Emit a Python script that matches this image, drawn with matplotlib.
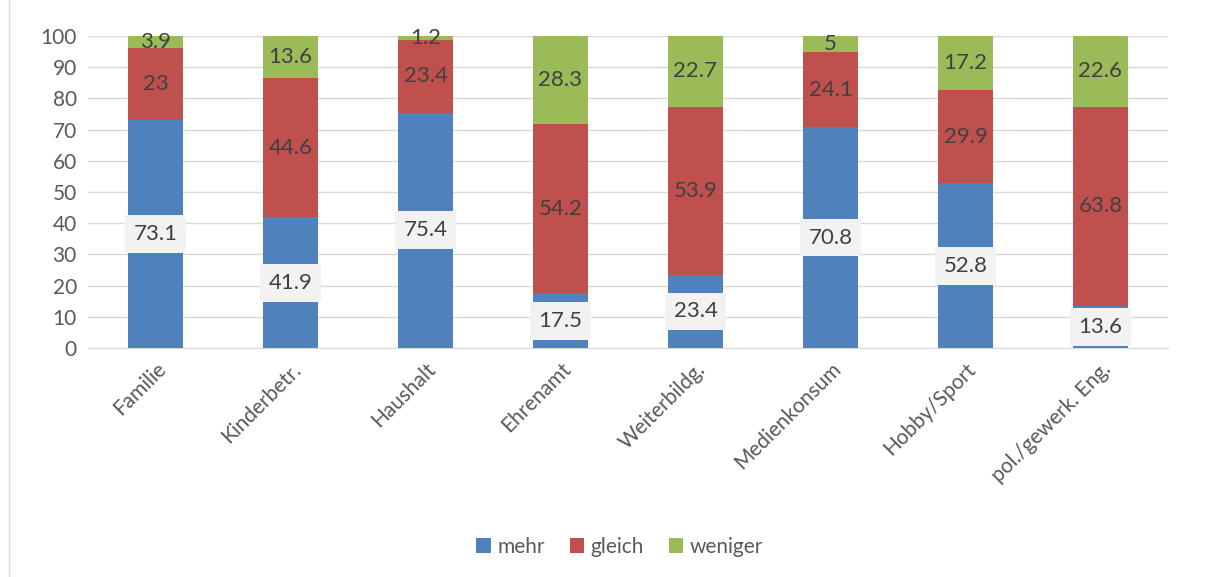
import numpy as np
import matplotlib.pyplot as plt
from matplotlib.patches import Rectangle

plt.rcParams['font.family'] = ['Lato', 'DejaVu Sans']

# Kategorien und Anteile (in %)
kategorien = ["Familie", "Kinderbetr.", "Haushalt", "Ehrenamt",
              "Weiterbildg.", "Medienkonsum", "Hobby/Sport", "pol./gewerk. Eng."]
mehr = [73.1, 41.9, 75.4, 17.5, 23.4, 70.8, 52.8, 13.6]
gleich = [23, 44.6, 23.4, 54.2, 53.9, 24.1, 29.9, 63.8]
weniger = [3.9, 13.6, 1.2, 28.3, 22.7, 5, 17.2, 22.6]

farben = ["#4F81BD", "#C0504D", "#9BBB59"]
text_grau = "#595959"
fs = 15

fig = plt.figure(figsize=(12.15, 5.77), dpi=100)
ax = fig.add_axes([0.0724, 0.3969, 0.8889, 0.5407])

x = np.arange(len(kategorien))
breite = 0.41

b1 = ax.bar(x, mehr, breite, color=farben[0], label="mehr", zorder=2)
b2 = ax.bar(x, gleich, breite, bottom=mehr, color=farben[1], label="gleich", zorder=2)
unten = np.array(mehr) + np.array(gleich)
b3 = ax.bar(x, weniger, breite, bottom=unten, color=farben[2], label="weniger", zorder=2)

# Werte als Beschriftung
ax.bar_label(b1, labels=[f"{v:g}" for v in mehr], label_type="center",
             fontsize=16, color="#404040",
             bbox=dict(boxstyle="square,pad=0.4", fc="#F2F2F2", ec="#F2F2F2", lw=0))
ax.bar_label(b2, labels=[f"{v:g}" for v in gleich], label_type="center",
             fontsize=16, color="#404040")
ax.bar_label(b3, labels=[f"{v:g}" for v in weniger], label_type="center",
             fontsize=16, color="#404040")

ax.set_xlim(-0.5, len(kategorien) - 0.5)
ax.set_ylim(0, 100)
ax.set_yticks(range(0, 101, 10))
ax.yaxis.grid(True, color="#D9D9D9", linewidth=1, zorder=0)
ax.set_axisbelow(True)
for s in ["top", "right", "left"]:
    ax.spines[s].set_visible(False)
ax.spines["bottom"].set_color("#D9D9D9")
ax.tick_params(axis="both", length=0, labelsize=fs, colors=text_grau, pad=8)
ax.set_xticks(x)
ax.set_xticklabels(kategorien, rotation=45, ha="right", rotation_mode="anchor")

fig.legend(handles=[b1, b2, b3], loc="center", bbox_to_anchor=(0.51, 0.052),
           ncol=3, frameon=False, fontsize=fs, labelcolor=text_grau,
           handlelength=0.7, handleheight=0.7, handletextpad=0.3, columnspacing=1.2)

# Rahmen um das Diagramm
fig.patches.append(Rectangle((0.007, -0.01), 1.0, 1.02, transform=fig.transFigure,
                             fill=False, ec="#D9D9D9", lw=1))

fig.savefig("out.png", dpi=100)
